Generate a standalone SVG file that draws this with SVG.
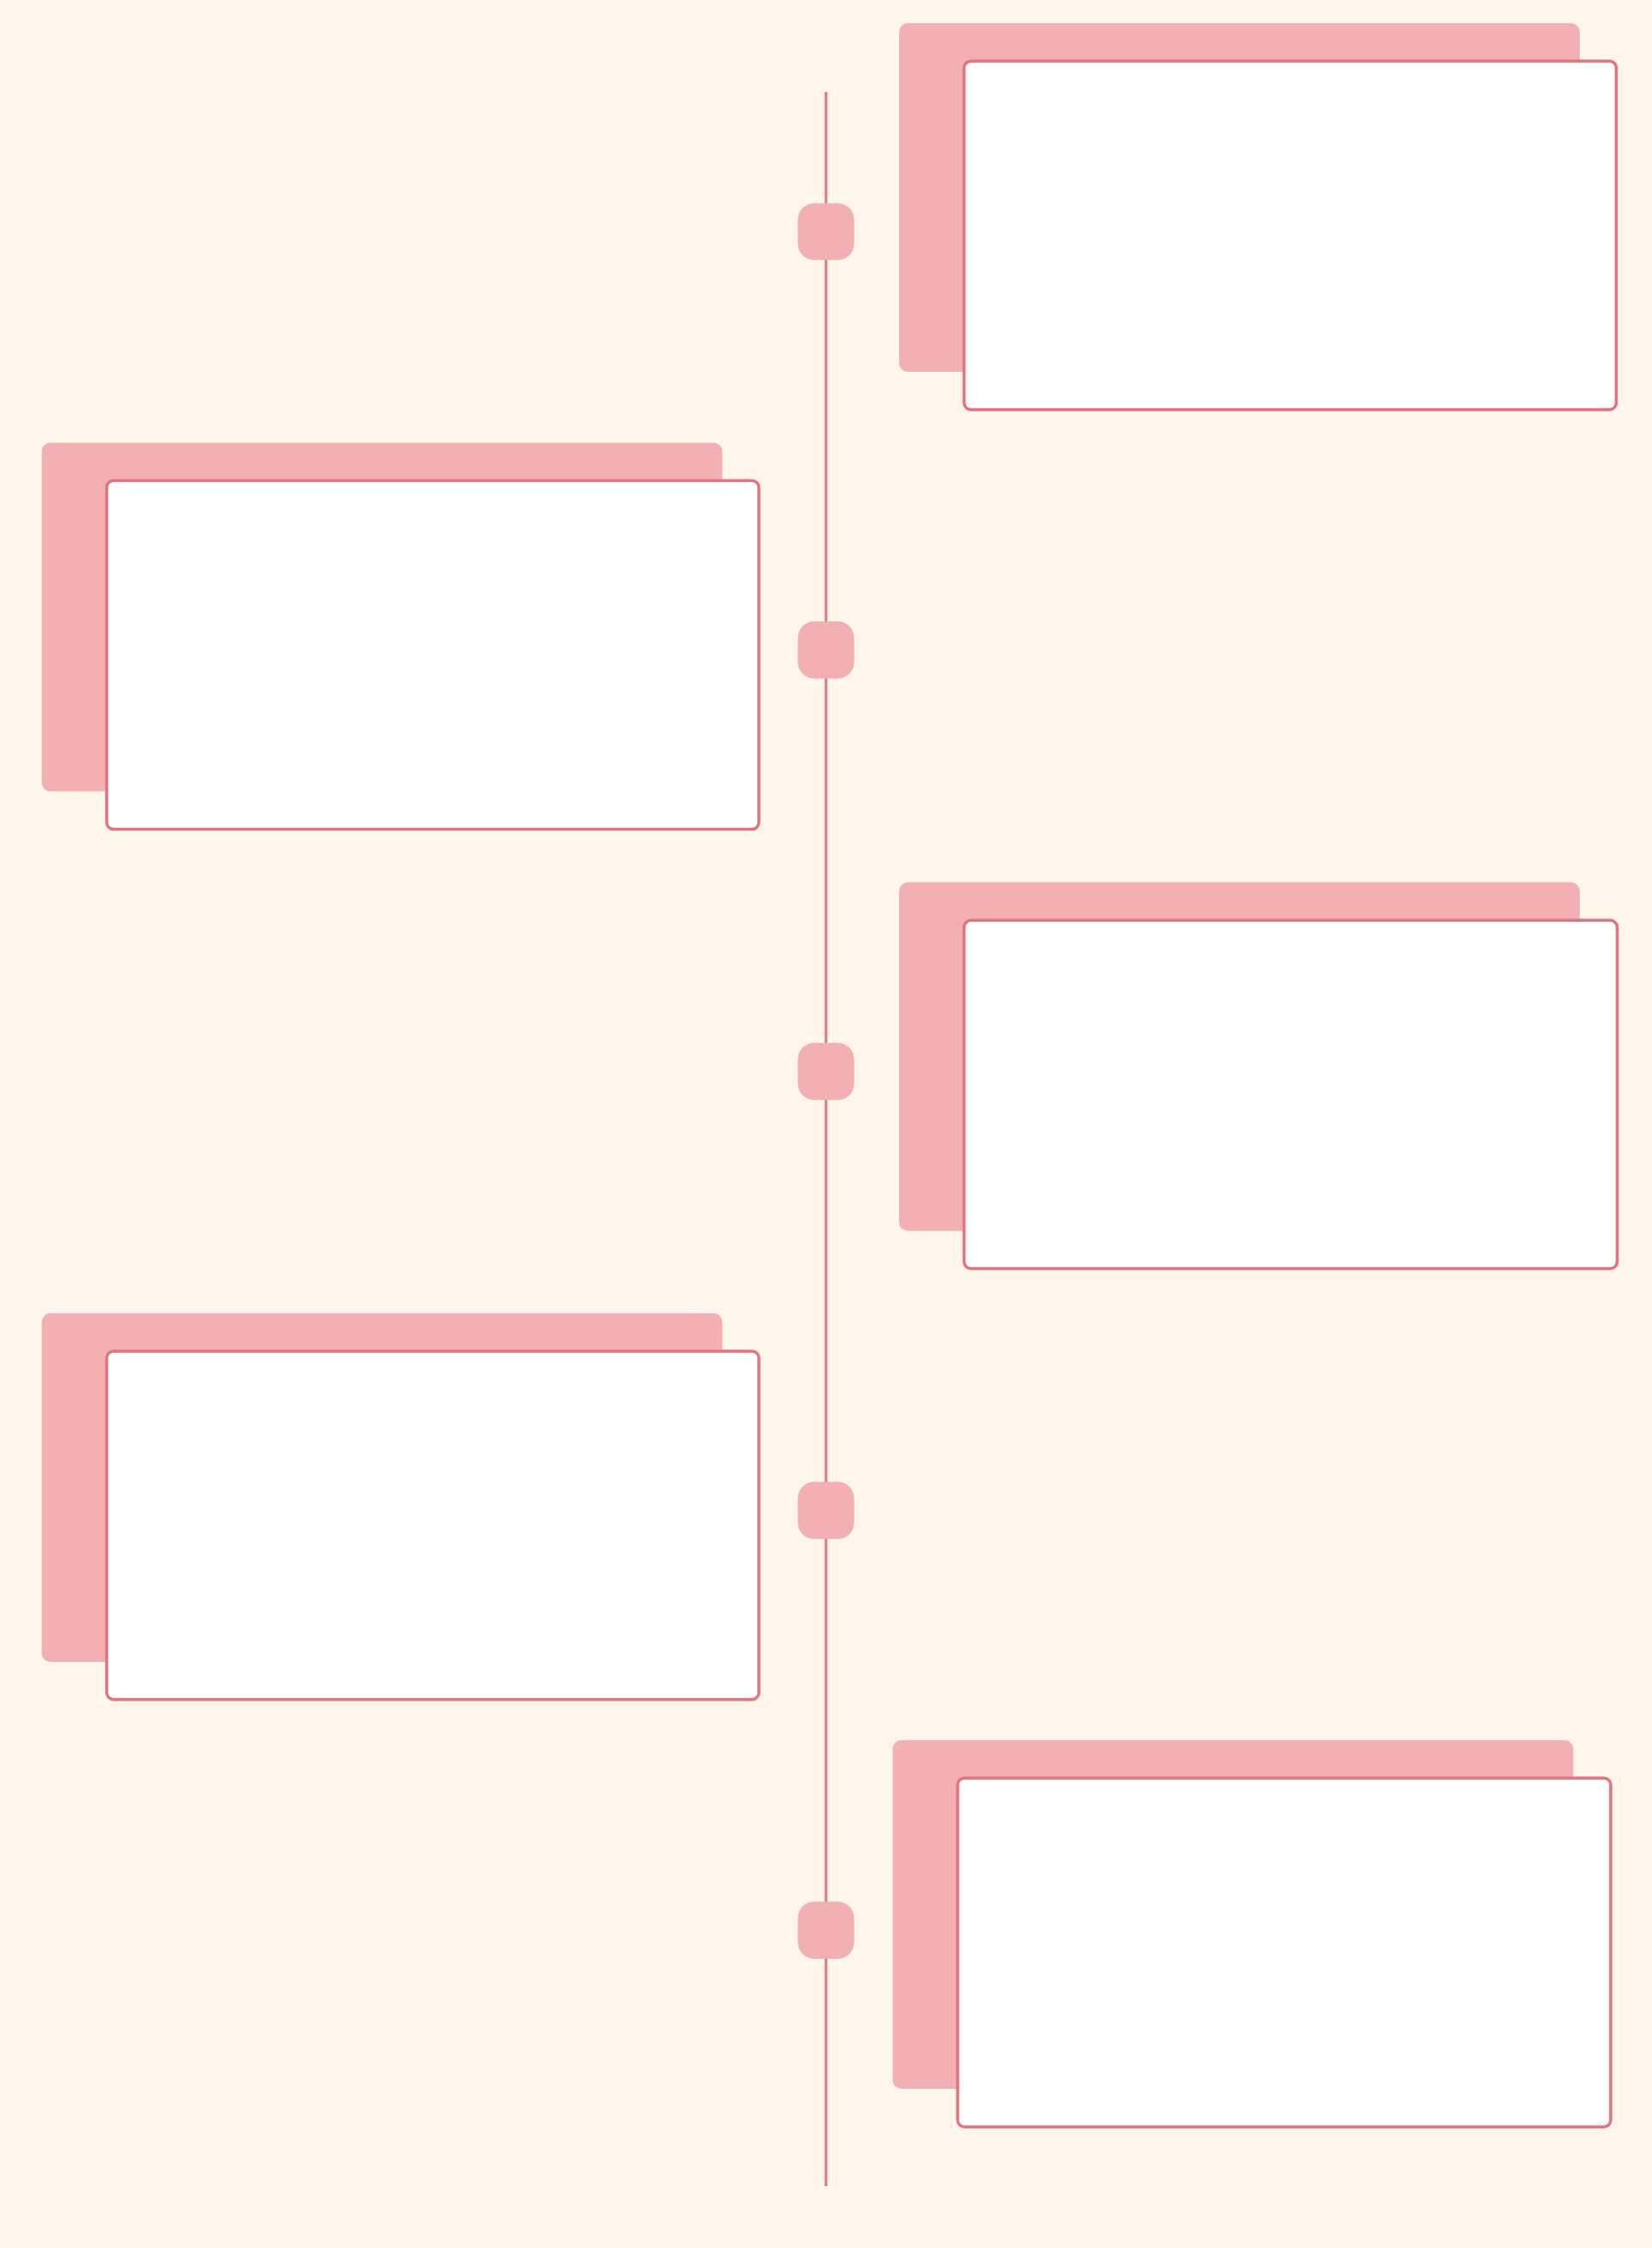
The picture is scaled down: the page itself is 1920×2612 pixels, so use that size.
<svg xmlns="http://www.w3.org/2000/svg" width="1920" height="2612" viewBox="0 0 1920 2612">
  <style>
    .shadow { fill: #f3b0b2; }
    .card { fill: #ffffff; stroke: #e3737e; stroke-width: 3.5; }
    .dot { fill: #f3b0b2; }
    .axis { stroke: #e3737e; stroke-width: 3; fill: none; }
  </style>
  <rect x="0" y="0" width="1920" height="2612" fill="#fef6eb"/>
  <g id="connectors">
    <line class="axis" x1="960" y1="107" x2="960" y2="2540"/>
  </g>
  <g id="node-1">
    <rect class="shadow" x="1045" y="27" width="791" height="405" rx="10"/>
    <rect class="card" x="1120.5" y="71" width="758" height="405" rx="8"/>
    <rect class="dot" x="927.3" y="236.3" width="65.4" height="66" rx="19"/>
  </g>
  <g id="node-2">
    <rect class="shadow" x="48.5" y="514.5" width="791" height="405" rx="10"/>
    <rect class="card" x="124" y="558.5" width="758" height="405" rx="8"/>
    <rect class="dot" x="927.3" y="722" width="65.4" height="66.5" rx="19"/>
  </g>
  <g id="node-3">
    <rect class="shadow" x="1045" y="1025.3" width="791" height="405" rx="10"/>
    <rect class="card" x="1120.5" y="1069.3" width="759" height="404.7" rx="8"/>
    <rect class="dot" x="927.3" y="1211.7" width="65.4" height="66.6" rx="19"/>
  </g>
  <g id="node-4">
    <rect class="shadow" x="48.5" y="1526" width="791" height="405" rx="10"/>
    <rect class="card" x="124" y="1570" width="758" height="404.7" rx="8"/>
    <rect class="dot" x="927.3" y="1721.7" width="65.4" height="66.6" rx="19"/>
  </g>
  <g id="node-5">
    <rect class="shadow" x="1037.5" y="2022" width="791" height="405" rx="10"/>
    <rect class="card" x="1113" y="2066" width="759" height="405.3" rx="8"/>
    <rect class="dot" x="927.3" y="2209.5" width="65.4" height="66.5" rx="19"/>
  </g>
</svg>
